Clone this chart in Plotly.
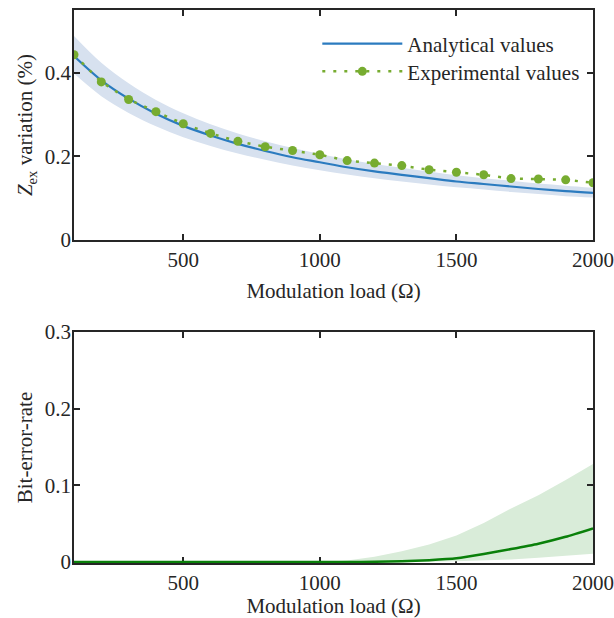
import plotly.graph_objects as go
from plotly.subplots import make_subplots

# Modulation load (ohm)
load = [100, 200, 300, 400, 500, 600, 700, 800, 900, 1000,
        1100, 1200, 1300, 1400, 1500, 1600, 1700, 1800, 1900, 2000]

# Z_ex variation (%)
analytical = [0.440, 0.382, 0.338, 0.302, 0.273, 0.250, 0.230, 0.213, 0.198, 0.186,
              0.174, 0.164, 0.156, 0.148, 0.140, 0.134, 0.128, 0.122, 0.117, 0.113]
analytical_hi = [0.488, 0.424, 0.375, 0.335, 0.303, 0.277, 0.255, 0.236, 0.220, 0.206,
                 0.193, 0.182, 0.173, 0.164, 0.155, 0.148, 0.142, 0.135, 0.130, 0.125]
analytical_lo = [0.398, 0.344, 0.304, 0.272, 0.246, 0.225, 0.207, 0.192, 0.178, 0.167,
                 0.157, 0.148, 0.140, 0.133, 0.126, 0.121, 0.115, 0.110, 0.105, 0.102]
experimental = [0.443, 0.378, 0.336, 0.307, 0.278, 0.255, 0.236, 0.223, 0.214, 0.204,
                0.190, 0.184, 0.178, 0.168, 0.162, 0.156, 0.147, 0.146, 0.144, 0.137]

# Bit-error-rate
ber = [0, 0, 0, 0, 0, 0, 0, 0, 0, 0,
       0.0001, 0.0004, 0.001, 0.0025, 0.005, 0.0105, 0.017, 0.024, 0.033, 0.044]
ber_hi = [0, 0, 0, 0, 0, 0, 0, 0, 0, 0,
          0.002, 0.007, 0.014, 0.023, 0.0345, 0.051, 0.070, 0.087, 0.107, 0.128]
ber_lo = [0, 0, 0, 0, 0, 0, 0, 0, 0, 0,
          0, 0.0001, 0.0002, 0.0005, 0.001, 0.002, 0.0035, 0.0055, 0.008, 0.011]

x_ticks = [500, 1000, 1500, 2000]
top_ticks = [0, 0.2, 0.4]
top_ticktext = ["0", "0.2", "0.4"]
bot_ticks = [0, 0.1, 0.2, 0.3]
bot_ticktext = ["0", "0.1", "0.2", "0.3"]

FONT = "Liberation Serif"
INK = "#262626"
BLUE = "#2B7BBF"
BLUE_BAND = "#D7E1EF"
LIGHT_GREEN = "#77AC30"
DARK_GREEN = "#0A800A"
GREEN_BAND = "#D9ECD9"

fig = make_subplots(rows=2, cols=1)

# --- top panel: impedance variation ---
fig.add_trace(go.Scatter(x=load, y=analytical_lo, mode="lines", line=dict(width=0, shape="spline"),
                         showlegend=False, hoverinfo="skip"), row=1, col=1)
fig.add_trace(go.Scatter(x=load, y=analytical_hi, mode="lines", line=dict(width=0, shape="spline"),
                         fill="tonexty", fillcolor=BLUE_BAND, showlegend=False, hoverinfo="skip"),
              row=1, col=1)
fig.add_trace(go.Scatter(x=load, y=analytical, mode="lines", name="Analytical values",
                         legend="legend",
                         line=dict(color=BLUE, width=2.2, shape="spline")), row=1, col=1)
fig.add_trace(go.Scatter(x=load, y=experimental, mode="lines+markers", name="Experimental values",
                         legend="legend2",
                         line=dict(color=LIGHT_GREEN, width=2.5, dash="3px,8px"),
                         marker=dict(color=LIGHT_GREEN, size=9)), row=1, col=1)

# --- bottom panel: bit-error-rate ---
fig.add_trace(go.Scatter(x=load, y=ber_lo, mode="lines", line=dict(width=0),
                         showlegend=False, hoverinfo="skip"), row=2, col=1)
fig.add_trace(go.Scatter(x=load, y=ber_hi, mode="lines", line=dict(width=0),
                         fill="tonexty", fillcolor=GREEN_BAND, showlegend=False, hoverinfo="skip"),
              row=2, col=1)
fig.add_trace(go.Scatter(x=load, y=ber, mode="lines",
                         line=dict(color=DARK_GREEN, width=2.5, shape="spline", smoothing=0.5),
                         showlegend=False), row=2, col=1)

axis_style = dict(showline=True, linecolor=INK, linewidth=1.6, mirror="ticks",
                  ticks="inside", ticklen=6, tickwidth=1.5, tickcolor=INK,
                  showgrid=False, zeroline=False, automargin=False,
                  tickfont=dict(family=FONT, size=21, color=INK),
                  title_font=dict(family=FONT, size=21, color=INK))

x_title = "Modulation load (\u03a9)"
fig.update_xaxes(axis_style, range=[100, 2000], tickvals=x_ticks, title_text=x_title)
fig.update_yaxes(axis_style, ticklabelstandoff=-3)

legend_style = dict(xanchor="left", yanchor="middle", bgcolor="rgba(0,0,0,0)", itemwidth=80,
                    font=dict(family=FONT, size=21, color=INK))

fig.update_layout(
    xaxis=dict(domain=[0, 1], title_standoff=12),
    yaxis=dict(domain=[0.584, 1], range=[0, 0.55], tickvals=top_ticks, ticktext=top_ticktext,
               title_text="<i>Z</i><sub>ex</sub> variation (%)", title_standoff=6),
    xaxis2=dict(domain=[0, 1], layer="below traces", title_standoff=4),
    yaxis2=dict(domain=[0, 0.4177], range=[-0.0012, 0.3], tickvals=bot_ticks, ticktext=bot_ticktext,
                title_text="Bit-error-rate", title_standoff=6),
    width=614, height=618,
    margin=dict(l=74, r=21, t=10, b=55),
    paper_bgcolor="white", plot_bgcolor="white",
    font=dict(family=FONT, size=21, color=INK),
    legend=dict(legend_style, x=0.4688, y=0.9385),
    legend2=dict(legend_style, x=0.4688, y=0.8884),
    showlegend=True,
)

fig.write_html("out.html")
